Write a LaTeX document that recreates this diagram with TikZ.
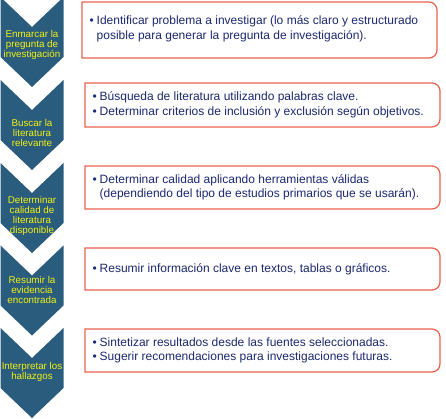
\documentclass[tikz,border=0pt]{standalone}
\usepackage{fontspec}
\setmainfont{Liberation Sans}
\definecolor{chevfill}{RGB}{42,92,126}
\definecolor{chevtext}{RGB}{242,242,20}
\definecolor{boxedge}{RGB}{232,98,78}
\definecolor{boxtext}{RGB}{28,40,112}
\newcommand\bul{\makebox[7pt][l]{•}}
\newcommand\ind{\hspace*{7pt}}
\tikzset{
 chev/.style={fill=chevfill},
 chevlabel/.style={text=chevtext, align=center, inner sep=0pt, font=\fontsize{9.8}{10}\selectfont},
 boxline/.style={draw=boxedge, line width=1.2pt, fill=white},
 boxlabel/.style={text=boxtext, align=left, inner sep=0pt, anchor=west, font=\fontsize{12}{14.5}\selectfont},
}
\newcommand\chevshape[1]{\fill[chev] (0.5,#1) -- (32,{#1+30}) -- (63.5,#1) -- (63.5,{#1+60}) -- (32,{#1+90}) -- (0.5,{#1+60}) -- cycle;}
\newcommand\rbox[4]{\draw[boxline, rounded corners=8pt] ({(#1+#3)/2},#2) -- (#3,#2) -- (#3,#4) -- ({(#1+#3)/2},#4) [sharp corners] -- (#1,#4) -- (#1,#2) -- cycle;}
\begin{document}
\begin{tikzpicture}[x=1pt,y=-1pt]
\useasboundingbox (0,0) rectangle (446,418);
\chevshape{-3}
\chevshape{80}
\chevshape{163}
\chevshape{245.5}
\chevshape{328}
\node[chevlabel] (c1) at (32,45) {Enmarcar la\\pregunta de\\investigación};
\node[chevlabel] (c2) at (32,133) {Buscar la\\literatura\\relevante};
\node[chevlabel] (c3) at (32,215.5) {Determinar\\calidad de\\literatura\\disponible};
\node[chevlabel] (c4) at (32,290) {Resumir la\\evidencia\\encontrada};
\node[chevlabel] (c5) at (32,372) {Interpretar los\\hallazgos};
\rbox{82}{2}{437}{58}
\rbox{85}{83}{440}{127}
\rbox{85}{166}{440}{209}
\rbox{85}{248}{440}{290}
\rbox{85}{329}{440}{372}
\node[boxlabel] (t1) at (89.5,29) {\bul Identificar problema a investigar (lo más claro y estructurado\\\ind posible para generar la pregunta de investigación).};
\node[boxlabel] (t2) at (92.5,105) {\bul Búsqueda de literatura utilizando palabras clave.\\\bul Determinar criterios de inclusión y exclusión según objetivos.};
\node[boxlabel] (t3) at (92.5,187.5) {\bul Determinar calidad aplicando herramientas válidas\\\ind (dependiendo del tipo de estudios primarios que se usarán).};
\node[boxlabel] (t4) at (92.5,269) {\bul Resumir información clave en textos, tablas o gráficos.};
\node[boxlabel] (t5) at (92.5,350.5) {\bul Sintetizar resultados desde las fuentes seleccionadas.\\\bul Sugerir recomendaciones para investigaciones futuras.};
\end{tikzpicture}
\end{document}
